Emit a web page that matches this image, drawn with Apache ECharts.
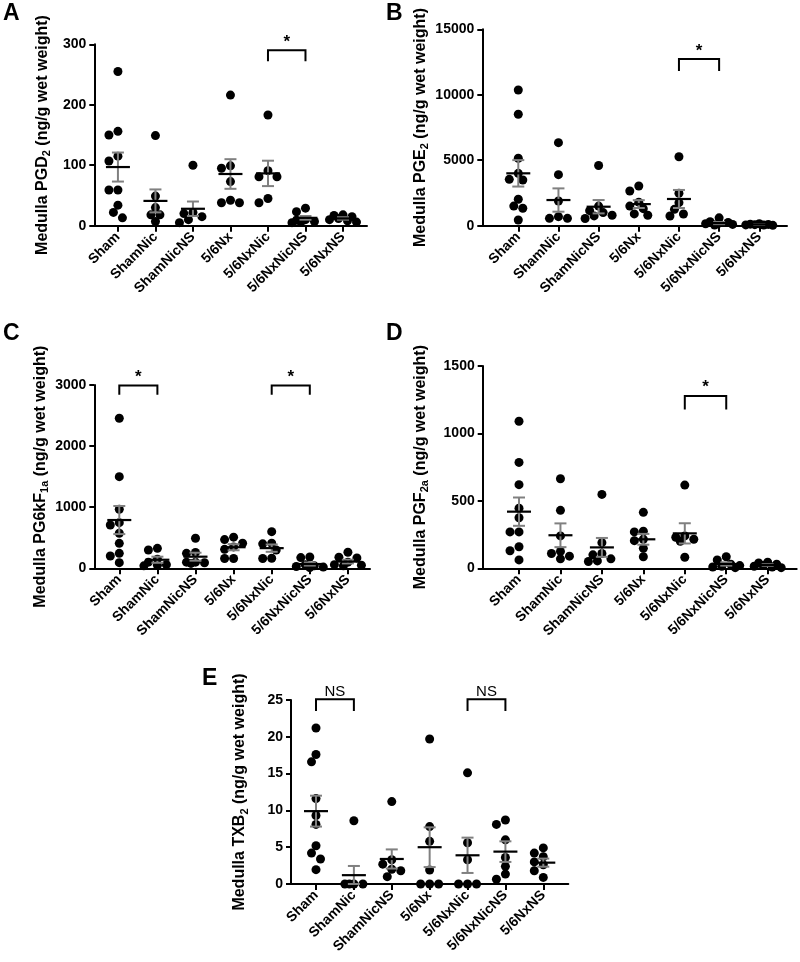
<!DOCTYPE html>
<html><head><meta charset="utf-8">
<script src="https://cdn.jsdelivr.net/npm/echarts@6/dist/echarts.min.js"></script>
<style>html,body{margin:0;padding:0;background:#fff}#c{width:800px;height:962px}</style>
</head><body><div id="c"></div>
<script>
// ---------- data ----------
const categories = ['Sham','ShamNic','ShamNicNS','5/6Nx','5/6NxNic','5/6NxNicNS','5/6NxNS'];

// A: PGD2
const pgd2 = [[255,156,150,115,107,59,59,34,22,13],[149,49,30,18,18,7],[100,22,20,15,10,5],[216,99,95,73,42,38,38],[183,91,81,81,45,38],[29,23,10,9,7,6,5],[18,17,15,12,10,8,6]];
const pgd2Mean = [97,41,28,85.5,86.5,13,12];
const pgd2Sem  = [24,19,12,24.5,21,3,2];
const pgd2Ticks = [0,100,200,300];

// B: PGE2
const pge2 = [[10360,8510,5150,4000,3540,3490,2020,1500,1330,435],[6340,3900,1890,690,560,560],[4600,1500,1150,1000,800,750,550],[3030,2650,1800,1500,1300,900,800],[5270,2480,1760,1250,890,740],[600,300,250,200,150,100,50],[150,120,100,80,60,50,30]];
const pge2Mean = [4000,1960,1450,1650,2040,200,100];
const pge2Sem  = [1010,890,510,300,690,80,25];
const pge2Ticks = [0,5000,10000,15000];

// C: PG6kF1a
const pg6kf = [[2455,1500,966,747,709,573,409,245,201,92],[327,300,150,100,60,50,40],[491,260,245,100,90,80,100],[510,470,410,350,310,160,160],[600,410,400,300,165,160],[185,175,60,40,30,20,10],[262,180,170,100,60,50,40]];
const pg6kfMean = [790,140,190,345,330,70,110];
const pg6kfSem  = [230,50,65,50,60,25,30];
const pg6kfTicks = [0,1000,2000,3000];

// D: PGF2a
const pgf2a = [[1090,785,620,445,375,270,270,160,130,62],[664,430,240,125,110,90,70],[548,190,110,100,70,55,50],[415,275,270,215,205,148,86],[617,240,230,215,200,82],[86,62,30,20,15,10,5],[45,40,30,20,15,10,5]];
const pgf2aMean = [420,245,155,215,259,32,24];
const pgf2aSem  = [105,88,70,40,75,12,6];
const pgf2aTicks = [0,500,1000,1500];

// E: TXB2
const txb2 = [[21.2,17.6,16.6,11.6,9.3,8.1,5.2,4.2,3.4,1.95],[8.6,0,0,0,0],[11.2,3.3,2.7,2.0,1.8,1.0],[19.7,7.8,5.8,1.9,0,0,0],[15.1,5.6,3.3,0,0,0],[8.7,8.1,6.0,3.6,2.4,1.35,0.65],[4.9,4.2,3.7,3.0,2.6,1.8,0.9]];
const txb2Mean = [9.9,1.2,3.4,5.0,3.9,4.4,2.9];
const txb2Sem  = [2.1,1.25,1.3,2.7,2.4,1.4,0.55];
const txb2Ticks = [0,5,10,15,20,25];

// significance brackets: [fromCategory, toCategory, label]
const bracketsA = [[4,5,'*']];
const bracketsB = [[4,5,'*']];
const bracketsC = [[0,1,'*'],[4,5,'*']];
const bracketsD = [[4,5,'*']];
const bracketsE = [[0,1,'NS'],[4,5,'NS']];
// bracket heights (value units): [bottom, top, text]
const bracketYA = [272,290,303];
const bracketYB = [11820,12730,13300];
const bracketYC = [2840,2990,3130];
const bracketYD = [1178,1277,1345];
const bracketYE = [23.5,25.1,26.1];

// ---------- layout ----------
const FONT = '"Liberation Sans", Arial, Helvetica, sans-serif';
const panels = [
  {letter:'A', lx:3, ly:2, name:'Medulla PGD{sub|2} (ng/g wet weight)', vals:pgd2, mean:pgd2Mean, sem:pgd2Sem, ticks:pgd2Ticks, br:bracketsA, bry:bracketYA,
   grid:{left:94.3, top:44.3, width:272.7, height:181.4}, xmin:-0.63, xmax:6.64, gap:42},
  {letter:'B', lx:386, ly:2, name:'Medulla PGE{sub|2} (ng/g wet weight)', vals:pge2, mean:pge2Mean, sem:pge2Sem, ticks:pge2Ticks, br:bracketsB, bry:bracketYB,
   grid:{left:482.3, top:29.3, width:304.7, height:196.4}, xmin:-0.896, xmax:6.69, gap:52},
  {letter:'C', lx:3, ly:322, name:'Medulla PG6kF{sub|1a} (ng/g wet weight)', vals:pg6kf, mean:pg6kfMean, sem:pg6kfSem, ticks:pg6kfTicks, br:bracketsC, bry:bracketYC,
   grid:{left:94.3, top:385, width:275.7, height:183.3}, xmin:-0.656, xmax:6.58, gap:44},
  {letter:'D', lx:386, ly:322, name:'Medulla PGF{sub|2a} (ng/g wet weight)', vals:pgf2a, mean:pgf2aMean, sem:pgf2aSem, ticks:pgf2aTicks, br:bracketsD, bry:bracketYD,
   grid:{left:482.7, top:366, width:314, height:202.3}, xmin:-0.876, xmax:6.7, gap:52},
  {letter:'E', lx:202, ly:667, name:'Medulla TXB{sub|2} (ng/g wet weight)', vals:txb2, mean:txb2Mean, sem:txb2Sem, ticks:txb2Ticks, br:bracketsE, bry:bracketYE,
   grid:{left:291, top:700, width:277.3, height:184}, xmin:-0.66, xmax:6.66, gap:41}
];

const DOT = 9;
function swarm(values, pxPerX, pxPerY) {
  const order = values.map((v,i)=>i).sort((a,b)=>values[b]-values[a]);
  const placed = [], out = new Array(values.length);
  const step = DOT*0.5, maxOff = DOT*1.8;
  const cands = [0];
  for (let k=1; k*step<=maxOff; k++) { cands.push(-k*step, k*step); }
  for (const i of order) {
    const yp = values[i]*pxPerY;
    let best = null, bestD = -1;
    for (const c of cands) {
      const md = placed.length ? Math.min(...placed.map(p=>Math.hypot(p.x-c, p.y-yp))) : Infinity;
      if (md >= DOT*0.85) { best = c; break; }
      if (md > bestD) { bestD = md; best = c; }
    }
    placed.push({x:best, y:yp});
    out[i] = best/pxPerX;
  }
  return out;
}

function renderMeanSem(params, api) {
  const x = api.value(0), m = api.value(1), s = api.value(2);
  const c = api.coord([x, m]);
  const hi = api.coord([x, m+s]);
  const lo = api.coord([x, Math.max(m-s, 0)]);
  const half = 12, cap = 6;
  const g = {stroke:'#808080', lineWidth:2};
  return {type:'group', children:[
    {type:'line', shape:{x1:c[0], y1:hi[1], x2:c[0], y2:lo[1]}, style:g},
    {type:'line', shape:{x1:c[0]-cap, y1:hi[1], x2:c[0]+cap, y2:hi[1]}, style:g},
    {type:'line', shape:{x1:c[0]-cap, y1:lo[1], x2:c[0]+cap, y2:lo[1]}, style:g},
    {type:'line', shape:{x1:c[0]-half, y1:c[1], x2:c[0]+half, y2:c[1]}, style:{stroke:'#000', lineWidth:2.2}}
  ]};
}

function renderBracket(params, api) {
  const a = api.value(0), b = api.value(1), yb = api.value(2), yt = api.value(3), ytx = api.value(4);
  const p1 = api.coord([a, yb]), p2 = api.coord([a, yt]), p3 = api.coord([b, yt]), p4 = api.coord([b, yb]);
  const pt = api.coord([(a+b)/2, ytx]);
  const label = api.value(5);
  return {type:'group', children:[
    {type:'polyline', shape:{points:[p1,p2,p3,p4]}, style:{stroke:'#000', lineWidth:2, fill:null}},
    {type:'text', x:pt[0], y:pt[1], style:{text:String(label), fill:'#000', font: (label==='NS' ? 'normal 15px ' : 'bold 17px ') + FONT, align:'center', verticalAlign:'middle'}}
  ]};
}

const option = {animation:false, grid:[], xAxis:[], yAxis:[], series:[], graphic:[]};
panels.forEach((p, gi) => {
  option.grid.push(Object.assign({containLabel:false}, p.grid));
  option.xAxis.push({type:'value', gridIndex:gi, min:p.xmin, max:p.xmax, splitLine:{show:false},
    axisLine:{show:true, onZero:false, lineStyle:{color:'#000', width:2}},
    axisTick:{show:true, customValues:[0,1,2,3,4,5,6], length:6, lineStyle:{color:'#000', width:2}},
    axisLabel:{show:true, customValues:[0,1,2,3,4,5,6], rotate:45, margin:9, formatter:v=>categories[Math.round(v)] || '',
      color:'#000', fontWeight:'bold', fontSize:14, fontFamily:FONT}});
  const ymax = p.ticks[p.ticks.length-1];
  option.yAxis.push({type:'value', gridIndex:gi, min:0, max:ymax, interval:p.ticks[1]-p.ticks[0], splitLine:{show:false},
    axisLine:{show:true, onZero:false, lineStyle:{color:'#000', width:2}},
    axisTick:{show:true, length:5, lineStyle:{color:'#000', width:2}},
    axisLabel:{color:'#000', fontWeight:'bold', fontSize:14, fontFamily:FONT, margin:8, formatter:v=>String(v)},
    name:p.name, nameLocation:'middle', nameGap:p.gap, nameMoveOverlap:false,
    nameTextStyle:{color:'#000', fontWeight:'bold', fontSize:16, fontFamily:FONT, lineHeight:20,
      rich:{sub:{fontSize:11, fontWeight:'bold', fontFamily:FONT, color:'#000', verticalAlign:'bottom', lineHeight:11}}}});
  const pxPerX = p.grid.width/(p.xmax-p.xmin), pxPerY = p.grid.height/ymax;
  const pts = [];
  p.vals.forEach((arr, ci) => {
    const off = swarm(arr, pxPerX, pxPerY);
    arr.forEach((v, k) => pts.push([ci + off[k], v]));
  });
  option.series.push({type:'scatter', xAxisIndex:gi, yAxisIndex:gi, data:pts, symbol:'circle', symbolSize:DOT,
    itemStyle:{color:'#000', opacity:1}, clip:false, z:2});
  option.series.push({type:'custom', xAxisIndex:gi, yAxisIndex:gi, renderItem:renderMeanSem, clip:false, z:3,
    data:p.mean.map((m,i)=>[i, m, p.sem[i]])});
  option.series.push({type:'custom', xAxisIndex:gi, yAxisIndex:gi, renderItem:renderBracket, clip:false, z:3,
    data:p.br.map(b=>[b[0], b[1], p.bry[0], p.bry[1], p.bry[2], b[2]])});
  option.graphic.push({type:'text', left:p.lx, top:p.ly, style:{text:p.letter, font:'bold 23px '+FONT, fill:'#000'}});
});

const chart = echarts.init(document.getElementById('c'), null, {renderer:'canvas'});
chart.setOption(option);
</script></body></html>
